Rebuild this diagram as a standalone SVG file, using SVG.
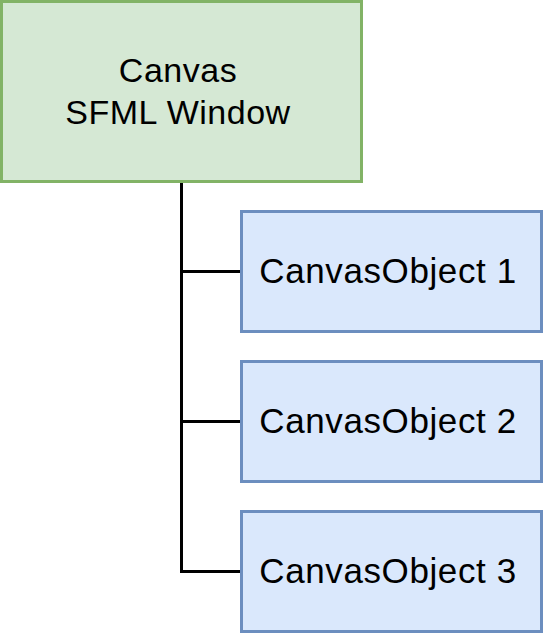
<svg xmlns="http://www.w3.org/2000/svg" width="546" height="633" viewBox="0 0 546 633">
<style>
.green{fill:#d5e8d4;stroke:#82b366;stroke-width:3}
.blue{fill:#dae8fc;stroke:#6c8ebf;stroke-width:3}
.lbl{font-family:"Liberation Sans",Arial,sans-serif;font-size:34px;fill:#000;text-anchor:middle;letter-spacing:0.5px}
.obj{font-size:35px;letter-spacing:0.6px}
.edge{fill:none;stroke:#000;stroke-width:3}
</style>
<rect width="546" height="633" fill="#fff"/>
<g id="connectors">
<path class="edge" d="M181.5 181.5V571.5H241.5"/>
<path class="edge" d="M181.5 271.5H241.5"/>
<path class="edge" d="M181.5 421.5H241.5"/>
</g>
<g id="canvas">
<rect class="green" x="1.5" y="1.5" width="360" height="180"/>
<text class="lbl" x="178" y="82">Canvas</text>
<text class="lbl" x="178" y="124">SFML Window</text>
</g>
<g id="obj1">
<rect class="blue" x="241.5" y="211.5" width="300" height="120"/>
<text class="lbl obj" x="388" y="283">CanvasObject 1</text>
</g>
<g id="obj2">
<rect class="blue" x="241.5" y="361.5" width="300" height="120"/>
<text class="lbl obj" x="388" y="433">CanvasObject 2</text>
</g>
<g id="obj3">
<rect class="blue" x="241.5" y="511.5" width="300" height="120"/>
<text class="lbl obj" x="388" y="583">CanvasObject 3</text>
</g>
</svg>
